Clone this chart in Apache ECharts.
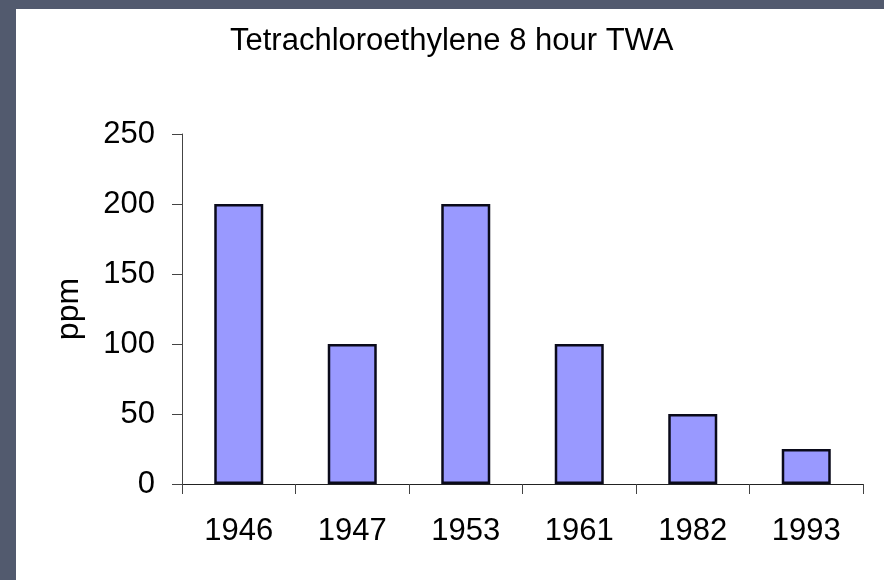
<!DOCTYPE html>
<html>
<head>
<meta charset="utf-8">
<script src="https://cdn.jsdelivr.net/npm/echarts@6/dist/echarts.min.js"></script>
<style>
html,body{margin:0;padding:0;background:#525a6e;}
#chart{width:884px;height:580px;}
</style>
</head>
<body>
<div id="chart"></div>
<script>
var titleText = 'Tetrachloroethylene 8 hour TWA';
var yAxisName = 'ppm';
var categories = ['1946', '1947', '1953', '1961', '1982', '1993'];
var values = [200, 100, 200, 100, 50, 25];
var yTicks = [0, 50, 100, 150, 200, 250];

var FONT = '"Liberation Sans", Arial, sans-serif';
var chart = echarts.init(document.getElementById('chart'));
chart.setOption({
  backgroundColor: '#525a6e',
  animation: false,
  graphic: [{
    type: 'rect', z: -10, silent: true,
    shape: { x: 16, y: 9, width: 868, height: 571 },
    style: { fill: '#ffffff' }
  }],
  title: {
    text: titleText,
    left: 225, top: 21,
    textStyle: { fontFamily: FONT, fontSize: 31, fontWeight: 'normal', color: '#000' }
  },
  grid: { left: 182, right: 21, top: 134, bottom: 96, containLabel: false },
  xAxis: {
    type: 'category',
    data: categories,
    axisLine: { lineStyle: { color: '#222', width: 1 } },
    axisTick: { show: true, length: 10, lineStyle: { color: '#444' } },
    axisLabel: { fontFamily: FONT, fontSize: 31, color: '#000', margin: 32 }
  },
  yAxis: {
    type: 'value',
    min: yTicks[0], max: yTicks[yTicks.length - 1], interval: 50,
    name: yAxisName,
    nameLocation: 'middle',
    nameRotate: 90,
    nameGap: 97,
    nameTextStyle: { fontFamily: FONT, fontSize: 32, color: '#000' },
    axisLine: { show: true, lineStyle: { color: '#444', width: 1 } },
    axisTick: { show: true, length: 10, lineStyle: { color: '#444' } },
    splitLine: { show: false },
    axisLabel: { fontFamily: FONT, fontSize: 31, color: '#000', margin: 27 }
  },
  series: [{
    type: 'bar',
    data: values,
    barWidth: 49,
    itemStyle: { color: '#9999ff', borderColor: '#0a0a1a', borderWidth: 2.5 }
  }]
});
</script>
</body>
</html>
